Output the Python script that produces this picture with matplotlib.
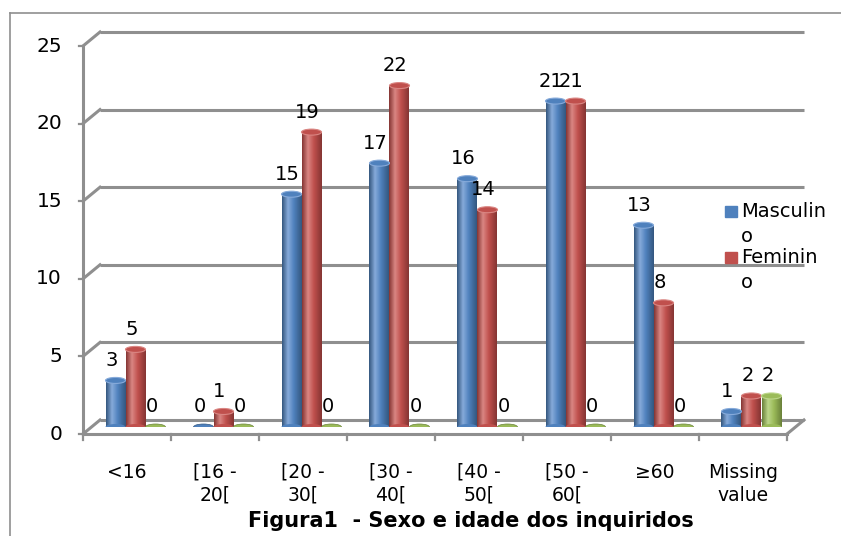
import numpy as np
import matplotlib
matplotlib.use("Agg")
import matplotlib.pyplot as plt
from matplotlib.colors import LinearSegmentedColormap
from matplotlib.patches import Ellipse, Rectangle
from matplotlib.lines import Line2D

plt.rcParams['font.family'] = ['DejaVu Sans']

categories = ['<16', '[16 -\n20[', '[20 -\n30[', '[30 -\n40[', '[40 -\n50[',
              '[50 -\n60[', '\u226560', 'Missing\nvalue']
masculino = [3, 0, 15, 17, 16, 21, 13, 1]
feminino = [5, 1, 19, 22, 14, 21, 8, 2]
sem_resposta = [0, 0, 0, 0, 0, 0, 0, 2]
y_ticks = [0, 5, 10, 15, 20, 25]

W, H = 841, 536
fig = plt.figure(figsize=(W / 100, H / 100), dpi=100)

# plot area in pixels (middle depth plane)
left_px, right_px, base_px, top_px = 91.5, 795.5, 427, 39
ax = fig.add_axes([left_px / W, 1 - base_px / H,
                   (right_px - left_px) / W, (base_px - top_px) / H])
ax.set_axis_off()

px_x = 8 / (right_px - left_px)      # data units per pixel (x)
px_y = 25 / (base_px - top_px)       # data units per pixel (y)
dx, dy = 8.5 * px_x, 7 * px_y         # half depth offset
grid_c = '#8f8f8f'

# back wall gridlines and left connectors
for v in y_ticks:
    ax.plot([-0.5 + dx, 7.5 + dx], [v + dy, v + dy], color=grid_c, lw=2.2,
            zorder=1, clip_on=False, solid_capstyle='butt')
    ax.plot([-0.5 - dx, -0.5 + dx], [v - dy, v + dy], color=grid_c, lw=2.2,
            zorder=1, clip_on=False)
    ax.plot([-0.5 - dx - 4 * px_x, -0.5 - dx], [v - dy, v - dy], color=grid_c,
            lw=1.6, zorder=1, clip_on=False)
    ax.text(-0.5 - dx - 21 * px_x, v - dy, str(v), ha='right', va='center',
            fontsize=14.5)

# front axis, floor edges, category ticks
ax.plot([-0.5 - dx, -0.5 - dx], [-dy, 25 - dy], color=grid_c, lw=2.2,
        zorder=1, clip_on=False)
ax.plot([-0.5 - dx, 7.5 - dx], [-dy, -dy], color=grid_c, lw=2.2,
        zorder=1, clip_on=False)
ax.plot([7.5 - dx, 7.5 + dx], [-dy, dy], color=grid_c, lw=2.2,
        zorder=1, clip_on=False)
for k in range(9):
    ax.plot([k - 0.5 - dx, k - 0.5 - dx], [-dy, -dy - 6 * px_y], color=grid_c,
            lw=1.6, zorder=1, clip_on=False)

for i, lab in enumerate(categories):
    ax.text(i - dx, -dy - 29 * px_y, lab, ha='center', va='top',
            multialignment='center', fontsize=13.5, linespacing=1.25)

series = [
    (masculino, '#4F81BD', '#34577F', '#86AADA', 'Masculin\no'),
    (feminino, '#C0504D', '#853533', '#DA8683', 'Feminin\no'),
    (sem_resposta, '#9BBB59', '#6A813A', '#BCD68A', None),
]
bw = 20 * px_x
ell_h = 6 * px_y
grad = np.linspace(0, 1, 64).reshape(1, -1)

for s, (vals, base, dark, light, name) in enumerate(series):
    cmap = LinearSegmentedColormap.from_list(
        'cyl', [(0, dark), (0.3, light), (0.6, base), (1, dark)])
    xs = np.arange(len(vals)) + (s - 1) * bw
    bars = ax.bar(xs, vals, width=bw, color=base, zorder=3, linewidth=0)
    for x, v, bar in zip(xs, vals, bars):
        if v > 0:
            img = ax.imshow(grad, cmap=cmap, aspect='auto', zorder=3,
                            extent=[x - bw / 2, x + bw / 2, 0, v])
            img.set_clip_path(bar)
            bottom = Ellipse((x, 0), bw, ell_h, color=base, zorder=3, lw=0)
            ax.add_patch(bottom)
            img2 = ax.imshow(grad, cmap=cmap, aspect='auto', zorder=3.1,
                             extent=[x - bw / 2, x + bw / 2, -ell_h, 0])
            img2.set_clip_path(bottom)
            ax.add_patch(Ellipse((x, v), bw, ell_h, facecolor=base,
                                 edgecolor=light, lw=0.8, zorder=4))
        else:
            ax.add_patch(Ellipse((x, 0), bw, ell_h, facecolor=base,
                                 edgecolor=dark, lw=0.5, zorder=3))
        ax.text(x - 4 * px_x, v + 20 * px_y, str(v), ha='center',
                va='center', fontsize=14, zorder=5)

ax.set_xlim(-0.5, 7.5)
ax.set_ylim(0, 25)

# legend for the two named series, labels wrapped over two lines
for k, (vals, base, dark, light, name) in enumerate(series[:2]):
    y0 = 206 + 46 * k
    fig.add_artist(Rectangle((725 / W, 1 - (y0 + 11) / H), 12 / W, 11 / H,
                             color=base, transform=fig.transFigure))
    fig.text(741 / W, 1 - (y0 - 4) / H, name, ha='left', va='top',
             fontsize=14, linespacing=1.42)

fig.text(471 / W, 1 - 521 / H, 'Figura1  - Sexo e idade dos inquiridos',
         ha='center', va='center', fontsize=15, fontweight='bold')

# outer chart frame
fig.add_artist(Line2D([10 / W, 10 / W], [0, 1 - 13 / H], color=grid_c,
                      lw=1.2, transform=fig.transFigure))
fig.add_artist(Line2D([10 / W, 1], [1 - 13 / H, 1 - 13 / H], color=grid_c,
                      lw=1.2, transform=fig.transFigure))

fig.savefig('out.png', dpi=100)
